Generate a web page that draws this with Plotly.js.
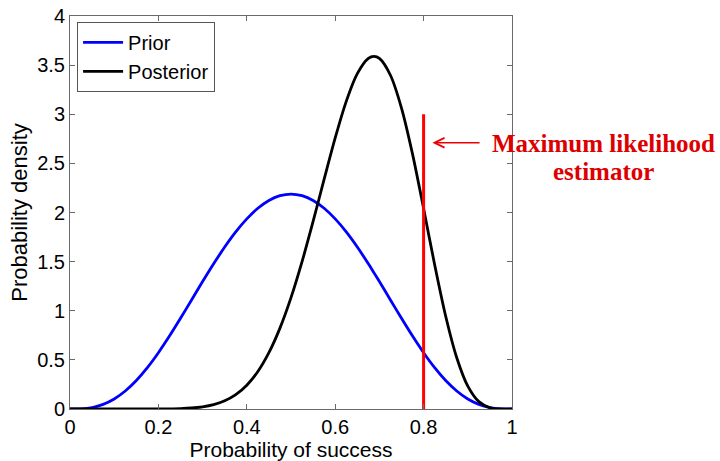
<!DOCTYPE html>
<html>
<head>
<meta charset="utf-8">
<script src="https://cdn.plot.ly/plotly-3.0.1.min.js"></script>
<style>
  html, body { margin: 0; padding: 0; background: #fff; }
  #chart { width: 720px; height: 461px; }
</style>
</head>
<body>
<div id="chart"></div>
<script>
// Probability of success grid
const successProb = [0, 0.025, 0.05, 0.075, 0.1, 0.125, 0.15, 0.175, 0.2, 0.225,
  0.25, 0.275, 0.3, 0.325, 0.35, 0.375, 0.4, 0.425, 0.45, 0.475,
  0.5, 0.525, 0.55, 0.575, 0.6, 0.625, 0.65, 0.675, 0.6875, 0.7, 0.725,
  0.75, 0.775, 0.8, 0.825, 0.85, 0.875, 0.9, 0.925, 0.95, 0.975, 1];

// Prior density
const priorDensity = [0, 0.002, 0.015, 0.047, 0.102, 0.183, 0.290, 0.421, 0.573, 0.742,
  0.923, 1.110, 1.297, 1.478, 1.649, 1.803, 1.935, 2.043, 2.123, 2.171,
  2.188, 2.171, 2.123, 2.043, 1.935, 1.803, 1.649, 1.478, 1.388, 1.297, 1.110,
  0.923, 0.742, 0.573, 0.421, 0.290, 0.183, 0.102, 0.047, 0.015, 0.002, 0];

// Posterior density
const posteriorDensity = [0, 0, 0, 0, 0, 0, 0, 0.0001, 0.0005, 0.0016,
  0.0042, 0.0101, 0.0221, 0.0445, 0.0832, 0.146, 0.242, 0.381, 0.573, 0.823,
  1.133, 1.500, 1.909, 2.339, 2.759, 3.131, 3.413, 3.569, 3.589, 3.568, 3.397,
  3.063, 2.594, 2.041, 1.469, 0.944, 0.522, 0.233, 0.075, 0.013, 0.0006, 0];

// Maximum likelihood estimate and the height of its marker line
const mleX = [0.8, 0.8];
const mleY = [0, 3];

const xTicks = [0, 0.2, 0.4, 0.6, 0.8, 1];
const xTickText = ['0', '0.2', '0.4', '0.6', '0.8', '1'];
const yTicks = [0, 0.5, 1, 1.5, 2, 2.5, 3, 3.5, 4];
const yTickText = ['0', '0.5', '1', '1.5', '2', '2.5', '3', '3.5', '4'];

const sans = 'Liberation Sans, Arial, sans-serif';
const serif = 'Liberation Serif, Times New Roman, serif';

const traces = [
  {
    x: successProb, y: priorDensity, name: 'Prior', type: 'scatter', mode: 'lines',
    line: { color: '#0000ff', width: 2.8, shape: 'spline', smoothing: 0.8 }
  },
  {
    x: successProb, y: posteriorDensity, name: 'Posterior', type: 'scatter', mode: 'lines',
    line: { color: '#000000', width: 2.8, shape: 'spline', smoothing: 0.8 }
  },
  {
    x: mleX, y: mleY, name: 'MLE', type: 'scatter', mode: 'lines', showlegend: false,
    line: { color: '#ff0000', width: 3 }
  }
];

const axisCommon = {
  showline: true, mirror: 'ticks', linecolor: '#6a6a6a', linewidth: 1,
  ticks: 'inside', ticklen: 5, tickcolor: '#6a6a6a', tickwidth: 1,
  showgrid: false, zeroline: false,
  tickfont: { family: sans, size: 20, color: '#000' }
};

const layout = {
  width: 720, height: 461,
  margin: { l: 70, r: 208, t: 16, b: 52 },
  paper_bgcolor: '#fff', plot_bgcolor: '#fff',
  showlegend: true,
  legend: {
    x: 0.016, y: 0.985, xanchor: 'left', yanchor: 'top',
    bgcolor: '#fff', bordercolor: '#555', borderwidth: 1,
    font: { family: sans, size: 20, color: '#000' },
    itemwidth: 40, tracegroupgap: 0
  },
  xaxis: Object.assign({}, axisCommon, {
    range: [0, 1], tickvals: xTicks, ticktext: xTickText,
    title: { text: 'Probability of success', font: { family: sans, size: 21, color: '#000' }, standoff: 0 }
  }),
  yaxis: Object.assign({}, axisCommon, {
    range: [0, 4], tickvals: yTicks, ticktext: yTickText,
    title: { text: 'Probability density', font: { family: sans, size: 22, color: '#000' }, standoff: 3 }
  }),
  annotations: [
    {
      x: 0.82, y: 2.71, xref: 'x', yref: 'y',
      ax: 0.93, ay: 2.71, axref: 'x', ayref: 'y',
      text: '', showarrow: true, arrowhead: 5, arrowsize: 1.3, arrowwidth: 1.5,
      arrowcolor: '#ee0000'
    },
    {
      x: 1.206, y: 2.70, xref: 'paper', yref: 'y',
      text: '<b>Maximum likelihood</b>', showarrow: false,
      xanchor: 'center', yanchor: 'middle',
      font: { family: serif, size: 25, color: '#dd0000' }
    },
    {
      x: 1.206, y: 2.42, xref: 'paper', yref: 'y',
      text: '<b>estimator</b>', showarrow: false,
      xanchor: 'center', yanchor: 'middle',
      font: { family: serif, size: 25, color: '#dd0000' }
    }
  ]
};

Plotly.newPlot('chart', traces, layout, { displayModeBar: false, staticPlot: true });
</script>
</body>
</html>
